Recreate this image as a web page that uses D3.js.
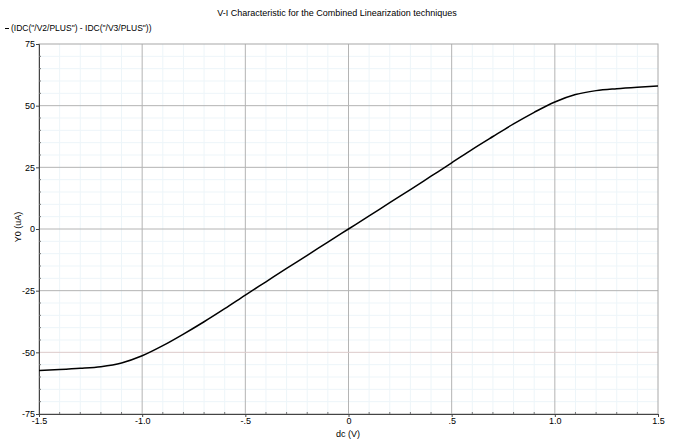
<!DOCTYPE html>
<html>
<head>
<meta charset="utf-8">
<script src="https://cdn.jsdelivr.net/npm/d3@7"></script>
<style>
body { margin: 0; background: #fff; }
text { font-family: "Liberation Sans", Arial, sans-serif; fill: #000; }
</style>
</head>
<body>
<svg id="chart" width="674" height="441"></svg>
<script>
// sweep values (V) and the current difference (uA)
const dcV = [-1.5, -1.4, -1.3, -1.2, -1.1, -1.0, -0.9, -0.8, -0.7, -0.6, -0.5, -0.4, -0.3, -0.2, -0.1,
  0, 0.1, 0.2, 0.3, 0.4, 0.5, 0.6, 0.7, 0.8, 0.9, 1.0, 1.1, 1.2, 1.3, 1.4, 1.5];
const idiff = [-57.4, -57.0, -56.5, -55.8, -54.3, -51.4, -47.3, -42.6, -37.6, -32.3, -26.8, -21.4, -16.0, -10.7, -5.3,
  0, 5.3, 10.7, 16.0, 21.4, 26.8, 32.3, 37.5, 42.6, 47.3, 51.5, 54.5, 56.1, 56.9, 57.5, 58.0];
const xTicks = [-1.5, -1.0, -0.5, 0, 0.5, 1.0, 1.5];
const xTickLabels = ["-1.5", "-1.0", "-.5", "0", ".5", "1.0", "1.5"];
const yTicks = [75, 50, 25, 0, -25, -50, -75];

const title = "V-I Characteristic for the Combined Linearization techniques";
const legendLabel = "(IDC(\"/V2/PLUS\") - IDC(\"/V3/PLUS\"))";

const pL = 39, pR = 658, pT = 44, pB = 414;
const svg = d3.select("#chart");

const x = d3.scaleLinear().domain([-1.5, 1.5]).range([pL, pR]);
const y = d3.scaleLinear().domain([-75, 75]).range([pB, pT]);

const xMinor = d3.range(-14, 15).map(d => d / 10).filter(d => Math.round(d * 10) % 5 !== 0);
const yMinor = d3.range(-70, 75, 5).filter(d => d % 25 !== 0);

// minor grid
svg.append("g").selectAll("line").data(xMinor).join("line")
  .attr("x1", d => x(d)).attr("x2", d => x(d))
  .attr("y1", pT).attr("y2", pB)
  .attr("stroke", "#edf5f9").attr("stroke-width", 1);
svg.append("g").selectAll("line").data(yMinor).join("line")
  .attr("x1", pL).attr("x2", pR)
  .attr("y1", d => y(d)).attr("y2", d => y(d))
  .attr("stroke", "#edf5f9").attr("stroke-width", 1);

// major grid
svg.append("g").selectAll("line").data(xTicks.slice(1, -1)).join("line")
  .attr("x1", d => x(d)).attr("x2", d => x(d))
  .attr("y1", pT).attr("y2", pB)
  .attr("stroke", "#b4b4b4").attr("stroke-width", 1);
svg.append("g").selectAll("line").data(yTicks.slice(1, -1)).join("line")
  .attr("x1", pL).attr("x2", pR)
  .attr("y1", d => y(d)).attr("y2", d => y(d))
  .attr("stroke", d => d === -50 ? "#dccaca" : "#b4b4b4").attr("stroke-width", 1);

// frame
svg.append("rect")
  .attr("x", pL).attr("y", pT)
  .attr("width", pR - pL).attr("height", pB - pT)
  .attr("fill", "none").attr("stroke", "#a8a8a8");

// axes
const xAxis = d3.axisBottom(x).tickValues(xTicks)
  .tickFormat((d, i) => xTickLabels[i]).tickSize(3).tickPadding(1);
svg.append("g").attr("transform", `translate(0,${pB})`).call(xAxis)
  .call(g => g.select(".domain").attr("stroke", "#444"))
  .call(g => g.selectAll(".tick line").attr("stroke", "#444"))
  .call(g => g.selectAll("text").attr("font-size", 9).attr("font-family", "Liberation Sans, Arial, sans-serif"));

const yAxis = d3.axisLeft(y).tickValues(yTicks).tickFormat(d => String(d)).tickSize(3).tickPadding(1);
svg.append("g").attr("transform", `translate(${pL},0)`).call(yAxis)
  .call(g => g.select(".domain").attr("stroke", "#444"))
  .call(g => g.selectAll(".tick line").attr("stroke", "#444"))
  .call(g => g.selectAll("text").attr("font-size", 9).attr("font-family", "Liberation Sans, Arial, sans-serif"));

// minor ticks along the axes
svg.append("g").selectAll("line").data(xMinor).join("line")
  .attr("x1", d => x(d)).attr("x2", d => x(d))
  .attr("y1", pB).attr("y2", pB - 2)
  .attr("stroke", "#777");
svg.append("g").selectAll("line").data(yMinor).join("line")
  .attr("x1", pL).attr("x2", pL + 2)
  .attr("y1", d => y(d)).attr("y2", d => y(d))
  .attr("stroke", "#777");

// curve
const data = dcV.map((v, i) => ({ v: v, i: idiff[i] }));
svg.append("path")
  .datum(data)
  .attr("fill", "none")
  .attr("stroke", "#000")
  .attr("stroke-width", 1.5)
  .attr("d", d3.line().x(d => x(d.v)).y(d => y(d.i)).curve(d3.curveMonotoneX));

// labels
svg.append("text")
  .attr("x", 337).attr("y", 16)
  .attr("text-anchor", "middle")
  .style("font-size", "9px")
  .text(title);

svg.append("line")
  .attr("x1", 5).attr("x2", 9).attr("y1", 28.5).attr("y2", 28.5)
  .attr("stroke", "#000");
svg.append("text")
  .attr("x", 11).attr("y", 31)
  .style("font-size", "8.5px")
  .text(legendLabel);

svg.append("text")
  .attr("x", 348).attr("y", 437)
  .attr("text-anchor", "middle")
  .style("font-size", "9px")
  .text("dc (V)");

svg.append("text")
  .attr("transform", "rotate(-90)")
  .attr("x", -227).attr("y", 21)
  .attr("text-anchor", "middle")
  .style("font-size", "9px")
  .text("Y0 (uA)");
</script>
</body>
</html>
